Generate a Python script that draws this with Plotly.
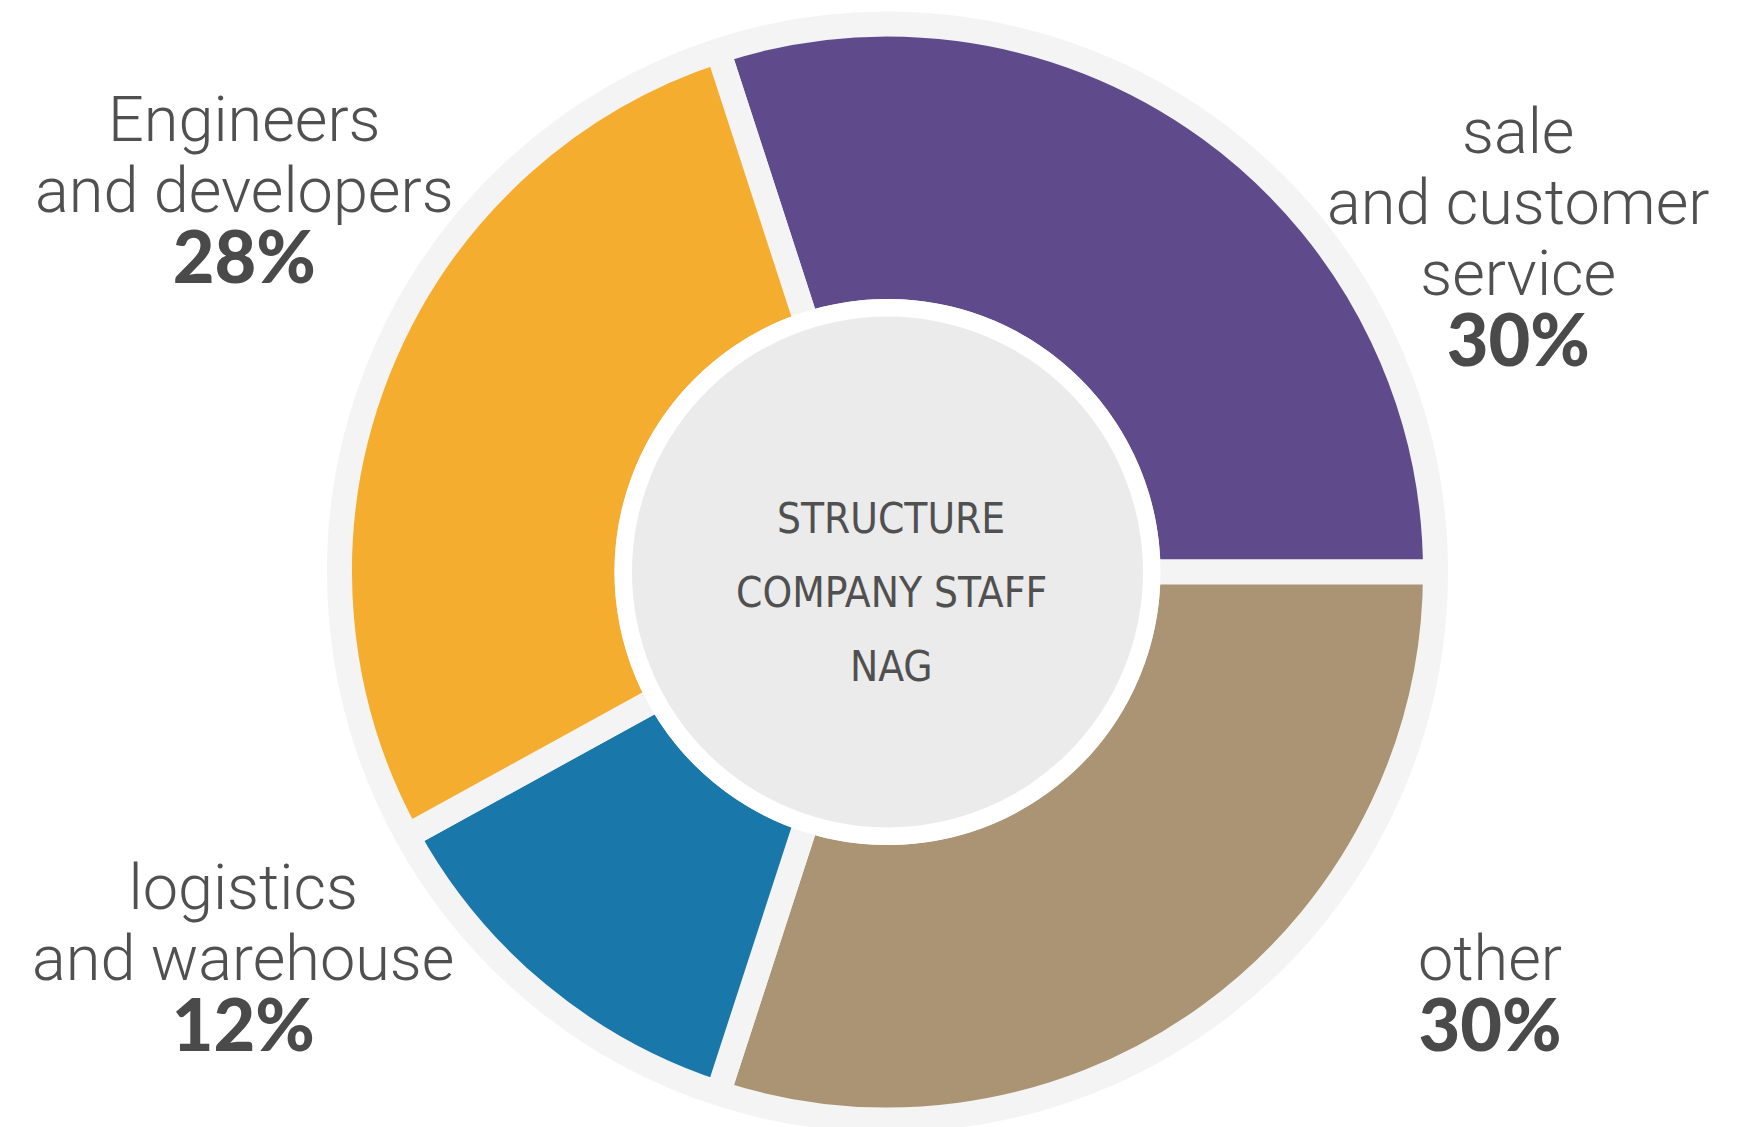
import plotly.graph_objects as go

# ---------------- data ----------------
categories = ["sale and customer service", "other", "logistics and warehouse", "Engineers and developers"]
values = [30, 30, 12, 28]
label_lines = [
    ["sale", "and customer", "service"],
    ["other"],
    ["logistics", "and warehouse"],
    ["Engineers", "and developers"],
]
center_lines = ["STRUCTURE", "COMPANY STAFF", "NAG"]
colors = ["#5f4b8b", "#aa9474", "#1a77a9", "#f5ad30"]

# ---------------- layout geometry (pixels of the screenshot) ----------------
W, H = 1756, 1127
OFF = 8                # default page body margin of the html page
CX, CY = 887.5, 572.0
R_PIE = 548.0          # geometric pie radius (stroke straddles it -> grey outer ring)
GAP = 25               # slice separator / outer ring width
R_WHITE = 273.0        # white ring around centre disc
R_DISC = 255.5         # inner grey disc


def px_x(x):
    return (x - OFF) / W


def px_y(y):
    return 1 - (y - OFF) / H


# label block anchor: (center x, baseline of first line)
label_pos = [(1518, 152), (1490, 979), (243, 908), (244, 140)]
LINE_STEP = 71
LBL_SIZE = 63
PCT_SIZE = 72
TXT = "#505050"
ROBOTO_ASCENT = 0.928

fig = go.Figure()
fig.add_trace(go.Pie(
    labels=categories,
    values=values,
    sort=False,
    direction="clockwise",
    rotation=-18,
    hole=(R_WHITE - GAP / 2) / R_PIE,
    marker=dict(colors=colors, line=dict(color="#f4f4f4", width=GAP)),
    textinfo="none",
    hoverinfo="label+percent",
    showlegend=False,
    domain=dict(x=[px_x(CX - R_PIE), px_x(CX + R_PIE)],
                y=[px_y(CY + R_PIE), px_y(CY - R_PIE)]),
))

shapes = [
    dict(type="circle", xref="paper", yref="paper", layer="above",
         x0=px_x(CX - R_WHITE), x1=px_x(CX + R_WHITE),
         y0=px_y(CY + R_WHITE), y1=px_y(CY - R_WHITE),
         fillcolor="#ffffff", line=dict(width=0)),
    dict(type="circle", xref="paper", yref="paper", layer="above",
         x0=px_x(CX - R_DISC), x1=px_x(CX + R_DISC),
         y0=px_y(CY + R_DISC), y1=px_y(CY - R_DISC),
         fillcolor="#ebebeb", line=dict(width=0)),
]

annotations = []
for (lx, ly), lines, v in zip(label_pos, label_lines, values):
    parts = [f'<span style="font-family:Roboto;font-weight:300;font-size:{LBL_SIZE}px">{ln}</span>'
             for ln in lines]
    parts.append(f"<span style=\"font-family:'Lato Black',Lato;font-weight:900;font-size:{PCT_SIZE}px;"
                 f'color:#4a4a4a">{v}%</span>')
    annotations.append(dict(
        x=px_x(lx), y=px_y(ly - ROBOTO_ASCENT * LBL_SIZE), xref="paper", yref="paper",
        text="<br>".join(parts), showarrow=False, xanchor="center", yanchor="top",
        align="center", borderpad=0,
        font=dict(family="Roboto", size=LINE_STEP / 1.3, color=TXT, weight=300)))

C_SIZE = 42
C_FONT = "DejaVu Sans Condensed, Roboto Condensed, Arial Narrow, Roboto"
for i, ln in enumerate(center_lines):
    base = 533 + 74 * i
    annotations.append(dict(
        x=px_x(CX + 4), y=px_y(base - 0.35 * C_SIZE), xref="paper", yref="paper",
        text=ln, showarrow=False, xanchor="center", yanchor="middle", borderpad=0,
        font=dict(family=C_FONT, size=C_SIZE, color=TXT)))

fig.update_layout(
    width=W, height=H,
    margin=dict(l=0, r=0, t=0, b=0),
    paper_bgcolor="#ffffff", plot_bgcolor="#ffffff",
    shapes=shapes, annotations=annotations,
)

fig.write_html("out.html")
